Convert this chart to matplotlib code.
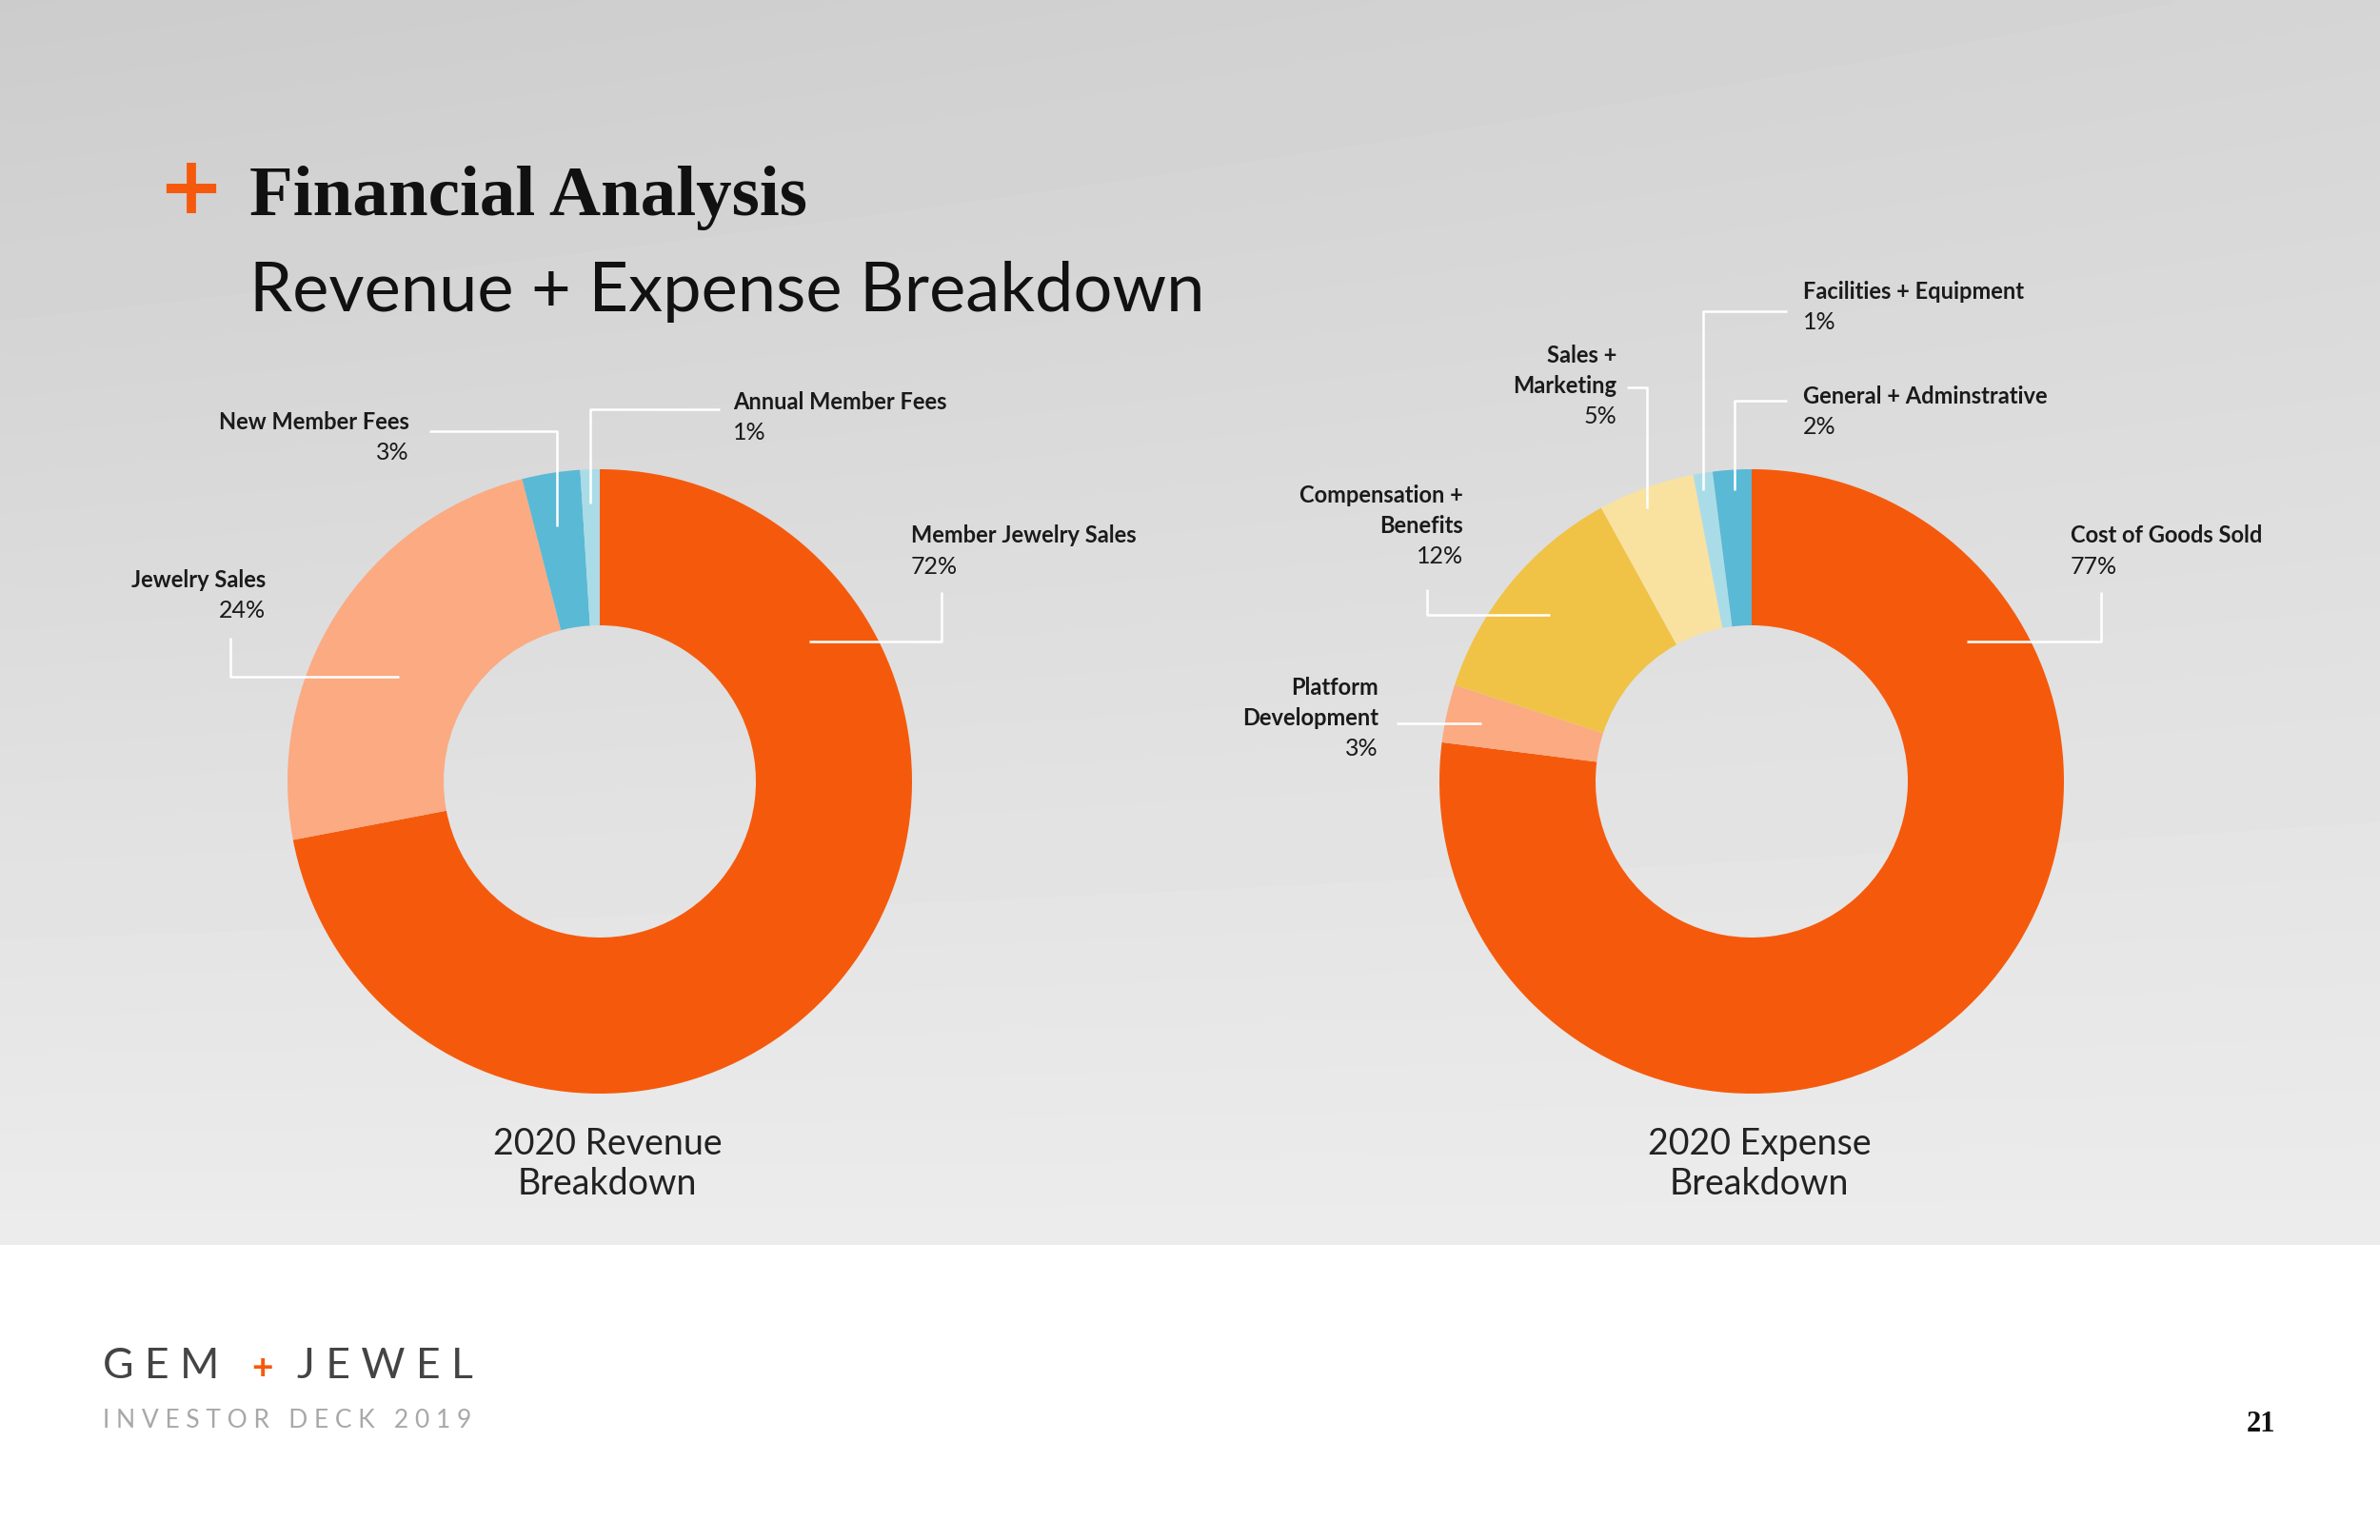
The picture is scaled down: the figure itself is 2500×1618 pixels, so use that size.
import matplotlib
matplotlib.use("Agg")
import matplotlib.pyplot as plt
import numpy as np

# --- data -------------------------------------------------------------
rev_names = ['Member Jewelry Sales', 'Jewelry Sales', 'New Member Fees', 'Annual Member Fees']
rev_values = [72, 24, 3, 1]
rev_colors = ['#F55A0C', '#FBAA82', '#5AB9D5', '#AADCE8']

exp_names = ['Cost of Goods Sold', 'Platform\nDevelopment', 'Compensation +\nBenefits',
             'Sales +\nMarketing', 'Facilities + Equipment', 'General + Adminstrative']
exp_values = [77, 3, 12, 5, 1, 2]
exp_colors = ['#F55A0C', '#FBAA82', '#F0C346', '#F9E2A0', '#AADCE8', '#5AB9D5']

# --- layout (pixel coords of a 2500x1618 canvas, y down) ----------------
W, H = 2500, 1618
GRAY_BOTTOM = 1308
R = 328
rev_center = (630, 821)
exp_center = (1840, 821)

# label anchor (x, y of first line, ha) and leader path for each wedge
rev_labels = [
    (957, 563, 'left', [(989, 622), (989, 674), (850, 674)]),
    (279, 609, 'right', [(242, 670), (242, 711), (419, 711)]),
    (430, 443, 'right', [(451, 453), (585, 453), (585, 553)]),
    (770, 422, 'left', [(756, 430), (620, 430), (620, 529)]),
]
exp_labels = [
    (2175, 563, 'left', [(2207, 622), (2207, 674), (2066, 674)]),
    (1448, 722, 'right', [(1467, 760), (1556, 760)]),
    (1537, 520, 'right', [(1499, 619), (1499, 646), (1628, 646)]),
    (1698, 373, 'right', [(1709, 407), (1730, 407), (1730, 534)]),
    (1894, 306, 'left', [(1877, 327), (1789, 327), (1789, 515)]),
    (1894, 416, 'left', [(1877, 421), (1822, 421), (1822, 515)]),
]
LINE = 32

fig = plt.figure(figsize=(25, 16.18), dpi=100)

# background
bg = fig.add_axes([0, 0, 1, 1], zorder=0)
bg.set_xlim(0, W)
bg.set_ylim(H, 0)
bg.axis('off')
yy, xx = np.mgrid[0:1:200j, 0:1:300j]
shade = 0.80 + 0.125 * yy + 0.035 * xx * (1 - yy)
bg.imshow(shade, cmap='gray', vmin=0, vmax=1, extent=(0, W, GRAY_BOTTOM, 0),
          aspect='auto', interpolation='bilinear')
bg.set_xlim(0, W)
bg.set_ylim(H, 0)


def donut(center, values, colors):
    cx, cy = center
    ax = fig.add_axes([(cx - R) / W, 1 - (cy + R) / H, 2 * R / W, 2 * R / H], zorder=1)
    ax.pie(values, colors=colors, startangle=90, counterclock=False, radius=1,
           wedgeprops=dict(width=0.5, linewidth=0))
    ax.set_xlim(-1, 1)
    ax.set_ylim(-1, 1)
    ax.set_aspect('auto')
    ax.axis('off')


donut(rev_center, rev_values, rev_colors)
donut(exp_center, exp_values, exp_colors)

# overlay for text and leader lines
ov = fig.add_axes([0, 0, 1, 1], zorder=2)
ov.patch.set_alpha(0)
ov.set_xlim(0, W)
ov.set_ylim(H, 0)
ov.axis('off')


def put_labels(names, values, specs):
    for name, val, (x, y, ha, path) in zip(names, values, specs):
        lines = name.split('\n')
        for i, ln in enumerate(lines):
            ov.text(x, y + i * LINE, ln, ha=ha, va='center', fontsize=17,
                    family='Lato', weight='bold', color='#1a1a1a')
        ov.text(x, y + len(lines) * LINE, f'{val}%', ha=ha, va='center', fontsize=18,
                family='Lato', color='#1a1a1a')
        px, py = zip(*path)
        ov.plot(px, py, color='white', lw=1.8, solid_capstyle='butt')


put_labels(rev_names, rev_values, rev_labels)
put_labels(exp_names, exp_values, exp_labels)

# titles
ov.text(200, 200, '+', ha='center', va='center', fontsize=60, weight='bold',
        family='DejaVu Sans', color='#F55A0C')
ov.text(262, 226, 'Financial Analysis', ha='left', va='baseline', fontsize=54,
        weight='bold', family='Liberation Serif', color='#111111')
ov.text(262, 327, 'Revenue + Expense Breakdown', ha='left', va='baseline', fontsize=52,
        family='Lato', color='#111111')

ov.text(638, 1223, '2020 Revenue\nBreakdown', ha='center', va='center', fontsize=27,
        family='Lato', color='#222222', linespacing=1.2)
ov.text(1848, 1223, '2020 Expense\nBreakdown', ha='center', va='center', fontsize=27,
        family='Lato', color='#222222', linespacing=1.2)

# footer
ov.text(108, 1435, 'G E M', ha='left', va='center', fontsize=32, family='Lato',
        color='#444444')
ov.text(276, 1437, '+', ha='center', va='center', fontsize=28, family='Lato',
        weight='bold', color='#F55A0C')
ov.text(312, 1435, 'J E W E L', ha='left', va='center', fontsize=32, family='Lato',
        color='#444444')
ov.text(108, 1493, 'I N V E S T O R   D E C K   2 0 1 9', ha='left', va='center',
        fontsize=19, family='Lato', color='#a8a8a8')
ov.text(2390, 1496, '21', ha='right', va='center', fontsize=22, weight='bold',
        family='Liberation Serif', color='#111111')

fig.savefig('out.png', dpi=100)
